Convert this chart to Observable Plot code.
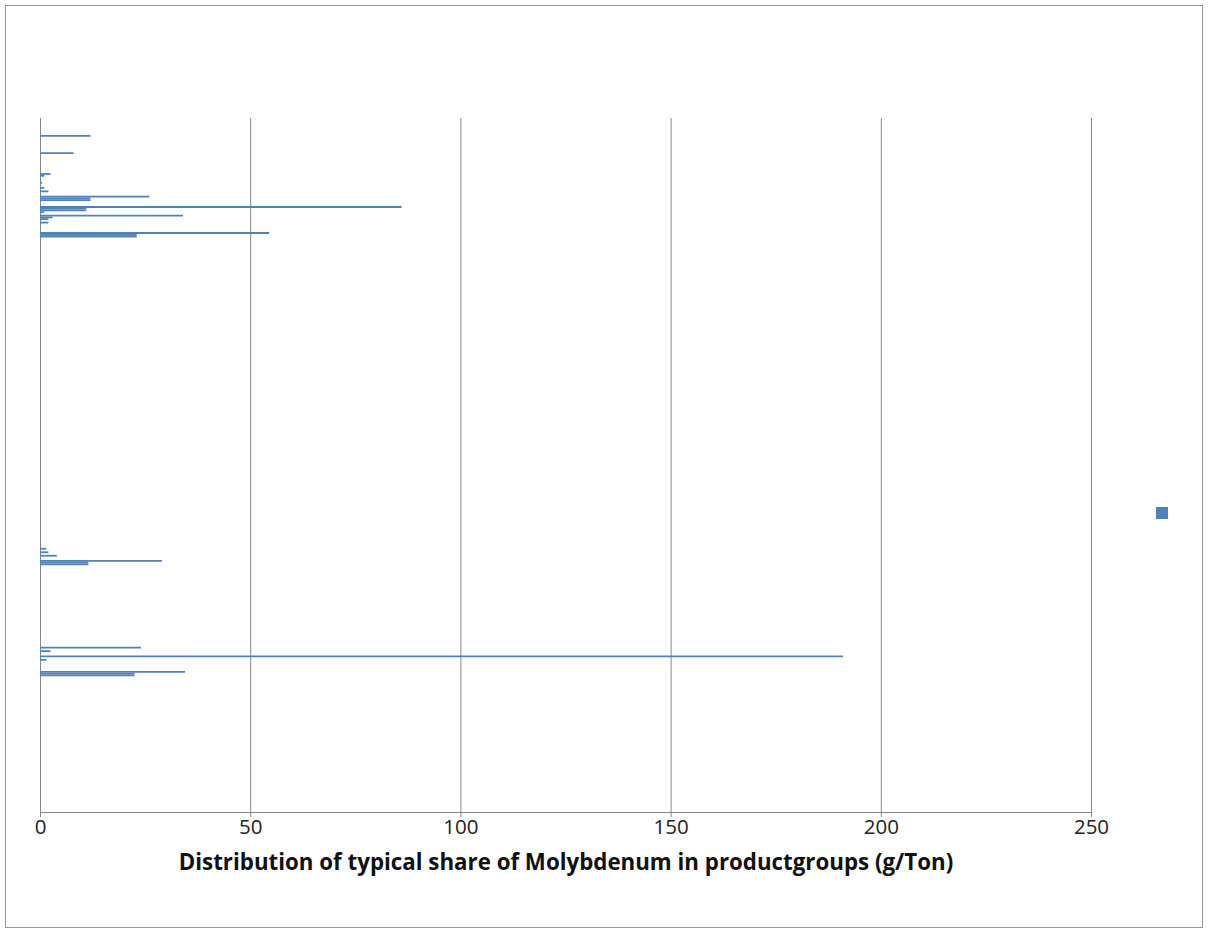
<!DOCTYPE html>
<html>
<head>
<meta charset="utf-8">
<script src="https://cdn.jsdelivr.net/npm/d3@7"></script>
<script src="https://cdn.jsdelivr.net/npm/@observablehq/plot@0.6"></script>
<style>
  html, body { margin: 0; padding: 0; background: #fff; }
  #chart { position: relative; width: 1208px; height: 932px; overflow: hidden; }
  #border { position: absolute; left: 5px; top: 5px; width: 1196px; height: 921px; border: 1px solid #9a9a9a; pointer-events: none; }
  #legend { position: absolute; left: 1156px; top: 507px; width: 12px; height: 12px; background: #4F81BD; }
  svg { font-family: "Open Sans", "Liberation Sans", sans-serif; }
</style>
</head>
<body>
<div id="chart"><div id="border"></div><div id="legend"></div></div>
<script>
// Category positions (row index from top, out of 400 slots) and values (g/Ton)
const rows = [10, 20, 32, 33, 37, 40, 42, 45, 46, 47, 51, 52, 53, 54, 56, 57, 58, 60, 66, 67, 68,
              248, 250, 252, 255, 256, 257,
              305, 307, 310, 312, 319, 320, 321];
const values = [12, 8, 2.5, 1, 0.5, 1, 2, 26, 12, 12, 86, 11, 11, 1, 34, 3, 2, 2, 54.5, 23, 23,
                1.5, 2, 4, 29, 11.5, 11.5,
                24, 2.5, 191, 1.5, 34.5, 22.5, 22.5];
const xTicks = [0, 50, 100, 150, 200, 250];
const axisTitle = "Distribution of typical share of Molybdenum in productgroups (g/Ton)";

const data = rows.map((r, i) => ({row: r, value: values[i]}));

const plot = Plot.plot({
  width: 1208,
  height: 932,
  marginTop: 118,
  marginBottom: 120,
  marginLeft: 40,
  marginRight: 117,
  x: {domain: [0, 250]},
  y: {domain: [0, 400], reverse: true, axis: null},
  marks: [
    Plot.gridX(xTicks, {stroke: "#868686", strokeOpacity: 1}),
    Plot.ruleY(data, {y: "row", x1: 0, x2: "value", stroke: "#4F81BD", strokeWidth: 1.8}),
    Plot.frame({anchor: "bottom", stroke: "#868686"}),
    Plot.axisX(xTicks, {tickSize: 5, tickPadding: 2, fontSize: 20.5, stroke: "#868686", fill: "#222", label: null}),
    Plot.text([axisTitle], {frameAnchor: "bottom", dy: 50, lineAnchor: "middle", fontSize: 22.3, fontWeight: "bold", fill: "#111"})
  ]
});
document.getElementById("chart").prepend(plot);
</script>
</body>
</html>
